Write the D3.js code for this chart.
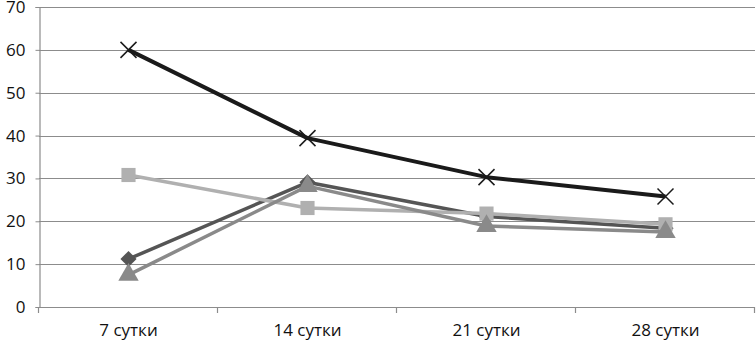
<!DOCTYPE html>
<html>
<head>
<meta charset="utf-8">
<script src="https://cdn.jsdelivr.net/npm/d3@7"></script>
<style>
  body { margin: 0; background: #fff; }
  svg text { font-family: "Open Sans", sans-serif; font-size: 16px; fill: #111; }
</style>
</head>
<body>
<svg id="chart" width="756" height="344"></svg>
<script>
const categories = ["7 сутки", "14 сутки", "21 сутки", "28 сутки"]
const yTicks = [0, 10, 20, 30, 40, 50, 60, 70]

const seriesDiamond = [11.2, 29.1, 21.1, 18.4]
const seriesSquare = [30.8, 23.1, 21.8, 19.3]
const seriesTriangle = [7.5, 28.2, 18.9, 17.5]
const seriesCross = [60, 39.4, 30.3, 25.8]

const series = [
    {name: "diamond", values: seriesDiamond, color: "#555555", marker: "diamond"},
    {name: "square", values: seriesSquare, color: "#b0b0b0", marker: "square"},
    {name: "triangle", values: seriesTriangle, color: "#8a8a8a", marker: "triangle"},
    {name: "cross", values: seriesCross, color: "#1a1a1a", marker: "cross"}
]

const margin = {top: 7, right: 1, bottom: 37, left: 39}
const width = 756, height = 344

const svg = d3.select("#chart")

const x = d3.scaleBand()
    .domain(categories)
    .range([margin.left, width - margin.right])

const y = d3.scaleLinear()
    .domain([0, 70])
    .range([height - margin.bottom, margin.top])

// horizontal gridlines
svg.append("g")
    .selectAll("line")
    .data(yTicks)
    .enter()
    .append("line")
    .attr("x1", margin.left)
    .attr("x2", width - margin.right)
    .attr("y1", d => Math.round(y(d)) + 0.5)
    .attr("y2", d => Math.round(y(d)) + 0.5)
    .attr("stroke", "#8c8c8c")
    .attr("stroke-width", 1.2)

// y axis
const yAxis = svg.append("g")
    .attr("transform", `translate(${margin.left + 0.5},0)`)
    .call(d3.axisLeft(y).tickValues(yTicks).tickSize(4).tickPadding(10))
yAxis.select(".domain").attr("stroke", "#8c8c8c").attr("stroke-width", 1.2)
yAxis.selectAll(".tick line").attr("stroke", "#8c8c8c")
yAxis.selectAll(".tick text").style("font-size", "17px").attr("fill", "#111")

// x axis
const xAxis = svg.append("g")
    .attr("transform", `translate(0,${Math.round(y(0)) + 0.5})`)
    .call(d3.axisBottom(x).tickSize(0).tickPadding(16))
xAxis.select(".domain").remove()
xAxis.selectAll(".tick text").style("font-size", "17px").attr("fill", "#111")

// x ticks at band boundaries
const bounds = categories.map(c => x(c)).concat([x(categories[categories.length - 1]) + x.bandwidth()])
svg.append("g")
    .selectAll("line")
    .data(bounds)
    .enter()
    .append("line")
    .attr("x1", d => Math.round(d) - 0.5)
    .attr("x2", d => Math.round(d) - 0.5)
    .attr("y1", Math.round(y(0)))
    .attr("y2", Math.round(y(0)) + 6)
    .attr("stroke", "#8c8c8c")
    .attr("stroke-width", 1.2)

const cx = (i) => x(categories[i]) + x.bandwidth() / 2

const line = d3.line()
    .x((d, i) => cx(i))
    .y(d => y(d))

const groups = svg.append("g")
    .selectAll("g")
    .data(series)
    .enter()
    .append("g")

groups.append("path")
    .attr("d", d => line(d.values))
    .attr("fill", "none")
    .attr("stroke", d => d.color)
    .attr("stroke-width", d => d.marker === "cross" ? 4 : 3.5)
    .attr("stroke-linejoin", "round")

const symbolOf = {
    square: d3.symbol().type(d3.symbolSquare).size(200),
    triangle: d3.symbol().type(d3.symbolTriangle).size(180),
    diamond: d3.symbol().type(d3.symbolSquare).size(130)
}

groups.each(function(s) {
    const g = d3.select(this)
    s.values.forEach((v, i) => {
        if (s.marker === "cross") {
            g.append("path")
                .attr("transform", `translate(${cx(i)},${y(v)})`)
                .attr("d", "M-8,-8L8,8M-8,8L8,-8")
                .attr("stroke", s.color)
                .attr("stroke-width", 1.5)
        } else {
            g.append("path")
                .attr("transform", `translate(${cx(i)},${y(v)})` + (s.marker === "diamond" ? " rotate(45)" : ""))
                .attr("d", symbolOf[s.marker]())
                .attr("fill", s.color)
        }
    })
})
</script>
</body>
</html>
